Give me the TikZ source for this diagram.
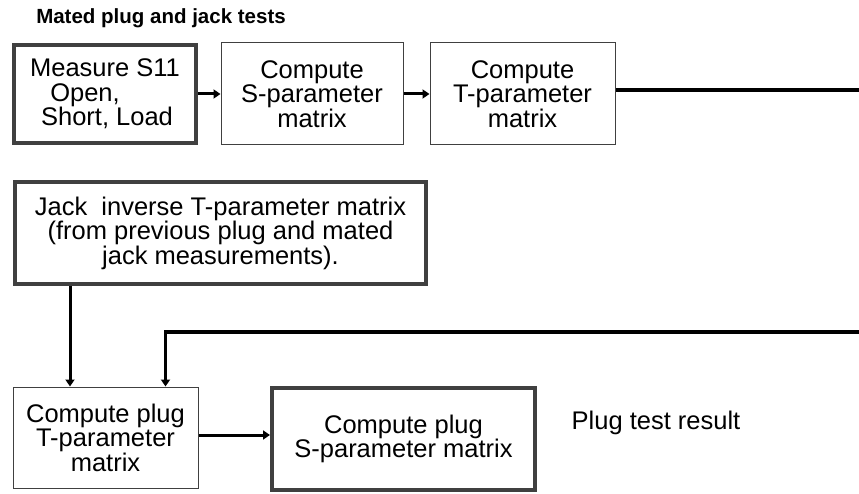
\documentclass[tikz,border=0pt]{standalone}
\usepackage{fontspec}
\setmainfont{Liberation Sans}
\usetikzlibrary{arrows.meta}
\definecolor{boxgray}{HTML}{404040}
\begin{document}
\begin{tikzpicture}[x=1pt, y=-1pt,
    every node/.style={font=\fontsize{25.5}{24.5}\selectfont, align=center, inner sep=0pt},
    thinbox/.style={draw=boxgray, line width=1pt},
    thickbox/.style={draw=boxgray, line width=4pt},
    arr/.style={line width=3pt, -{Triangle[length=7pt, width=9pt]}},
    feed/.style={line width=3.5pt}]
    \useasboundingbox (0,0) rectangle (859,494);
    \node[font=\fontsize{20.5}{22}\selectfont\bfseries] (title) at (161,18) {Mated plug and jack tests};
    \node[thickbox, minimum width=182pt, minimum height=98pt] (meas) at (105,94)
        {Measure S11\\Open,\rule{40pt}{0pt}\\\rule{4pt}{0pt}Short, Load};
    \node[thinbox, minimum width=182pt, minimum height=102pt] (sparam) at (312,94)
        {Compute\\S-parameter\\matrix};
    \node[thinbox, minimum width=185pt, minimum height=102pt] (tparam) at (522.5,94)
        {Compute\\T-parameter\\matrix};
    \node[thickbox, minimum width=411pt, minimum height=102pt] (jackinv) at (220.5,233)
        {Jack\ \ inverse T-parameter matrix\\ (from previous plug and mated\\jack measurements).};
    \node[thinbox, minimum width=185pt, minimum height=101pt] (plugT) at (105.5,437.5)
        {Compute plug\\T-parameter\\matrix};
    \node[thickbox, minimum width=263pt, minimum height=102pt] (plugS) at (403.5,439)
        {Compute plug\\S-parameter matrix};
    \node (result) at (656,423) {Plug test result};
    \coordinate (rtop) at (859,90);
    \coordinate (rbot) at (859,332);
    \draw[arr] (meas.east) -- (sparam.west);
    \draw[arr] (sparam.east) -- (tparam.west);
    \draw[feed] ([yshift=4pt]tparam.east) -- (rtop);
    \draw[arr] ([xshift=-35.5pt]plugT.north |- jackinv.south) -- ([xshift=-35.5pt]plugT.north);
    \draw[feed, -{Triangle[length=7pt, width=9pt]}] (rbot) -| ([xshift=60pt]plugT.north);
    \draw[arr] ([yshift=2.5pt]plugT.east) -- ([yshift=2.5pt]plugT.east -| plugS.west);
\end{tikzpicture}
\end{document}
